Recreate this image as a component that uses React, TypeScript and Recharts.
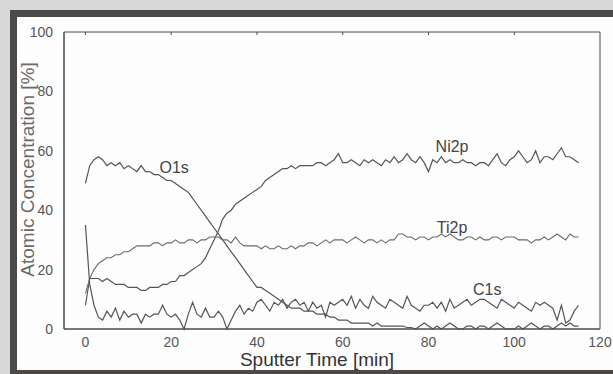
import { LineChart, Line, XAxis, YAxis, Label, ReferenceDot, ReferenceArea } from "recharts";

// sputter time [min], one reading per minute
const time = [
  0, 1, 2, 3, 4, 5, 6, 7, 8, 9, 10, 11, 12, 13, 14, 15, 16, 17, 18, 19,
  20, 21, 22, 23, 24, 25, 26, 27, 28, 29, 30, 31, 32, 33, 34, 35, 36, 37, 38, 39,
  40, 41, 42, 43, 44, 45, 46, 47, 48, 49, 50, 51, 52, 53, 54, 55, 56, 57, 58, 59,
  60, 61, 62, 63, 64, 65, 66, 67, 68, 69, 70, 71, 72, 73, 74, 75, 76, 77, 78, 79,
  80, 81, 82, 83, 84, 85, 86, 87, 88, 89, 90, 91, 92, 93, 94, 95, 96, 97, 98, 99,
  100, 101, 102, 103, 104, 105, 106, 107, 108, 109, 110, 111, 112, 113, 114, 115,
];

const o1s = [
  49, 55, 57, 58, 57, 55, 56, 55, 56, 54, 55, 54, 53, 55, 53, 53, 52, 52, 51, 50,
  50, 49, 48, 47, 46, 44, 42, 40, 38, 36, 34, 32, 30, 28, 26, 24, 22, 20, 18, 16,
  14, 14, 13, 12, 11, 10, 9, 8, 7, 7, 7, 6, 6, 6, 5, 5, 5, 4, 4, 3,
  3, 3, 2, 2, 2, 2, 2, 1, 2, 1, 1, 1, 1, 1, 1, 0.5, 0.5, 0, 1, 2,
  1, 0, 1, 0, 1, 2, 1, 0, 0, 1, 1, 0, 1, 1, 0, 1, 2, 1, 0, 0,
  0, 1, 0, 1, 2, 1, 0, 1, 1, 0, 1, 2, 1, 2, 1, 1,
];

const ni2p = [
  8, 17, 17, 17, 16, 17, 16, 15, 15, 15, 14, 14, 14, 13, 13, 14, 14, 14, 15, 15,
  16, 16, 18, 18, 19, 20, 21, 22, 24, 27, 30, 33, 37, 39, 40, 42, 43, 44, 45, 46,
  47, 48, 50, 51, 52, 53, 54, 54, 55, 54, 55, 55, 55, 55, 56, 56, 55, 56, 57, 59,
  56, 56, 57, 56, 55, 57, 56, 57, 56, 55, 57, 56, 58, 56, 57, 59, 57, 56, 58, 56,
  53, 57, 56, 58, 56, 57, 56, 56, 57, 56, 56, 55, 56, 56, 55, 57, 59, 56, 55, 57,
  58, 60, 58, 56, 57, 60, 56, 58, 58, 57, 59, 61, 58, 58, 57, 56,
];

const ti2p = [
  12, 17, 20, 22, 23, 24, 24, 25, 25, 26, 26, 27, 28, 28, 28, 28, 29, 29, 28, 29,
  29, 30, 29, 29, 30, 30, 29, 30, 30, 31, 31, 31, 30, 30, 29, 31, 29, 28, 28, 28,
  28, 27, 28, 27, 27, 28, 27, 27, 28, 27, 28, 28, 29, 29, 28, 29, 30, 29, 30, 30,
  30, 29, 30, 31, 30, 29, 30, 30, 29, 30, 29, 30, 30, 32, 32, 31, 31, 30, 31, 31,
  30, 31, 31, 32, 31, 32, 31, 30, 30, 31, 31, 30, 31, 30, 30, 31, 31, 30, 31, 31,
  31, 30, 30, 30, 29, 30, 30, 31, 30, 31, 32, 31, 30, 32, 31, 31,
];

const c1s = [
  35, 15, 8, 4, 3, 6, 4, 7, 3, 6, 4, 5, 5, 2, 5, 4, 5, 5, 8, 5,
  4, 5, 3, 0, 5, 9, 5, 4, 7, 4, 4, 6, 4, 0, 3, 6, 8, 5, 7, 6,
  9, 10, 8, 6, 9, 8, 10, 7, 9, 10, 8, 9, 6, 9, 7, 8, 4, 9, 8, 9,
  10, 8, 11, 7, 10, 8, 7, 11, 9, 8, 7, 10, 9, 8, 7, 11, 8, 7, 6, 8,
  8, 9, 7, 9, 6, 10, 7, 8, 9, 10, 8, 9, 10, 10, 9, 8, 7, 10, 9, 8,
  7, 9, 8, 7, 6, 9, 8, 9, 8, 7, 3, 8, 2, 3, 6, 8,
];

const xTicks = [0, 20, 40, 60, 80, 100, 120];
const yTicks = [0, 20, 40, 60, 80, 100];
const rightTicks = [10, 20, 30, 40, 50, 60, 70, 80, 90];

// where the curve names sit, in data units
const tags = [
  { name: "O1s", t: 20.7, v: 54.4 },
  { name: "Ni2p", t: 85.5, v: 61.5 },
  { name: "Ti2p", t: 85.5, v: 34.1 },
  { name: "C1s", t: 93.7, v: 13.2 },
];

const rows = time.map((t, i) => ({ t, o1s: o1s[i], ni2p: ni2p[i], ti2p: ti2p[i], c1s: c1s[i] }));

const font = "Liberation Sans, Arial, sans-serif";
const lineColor = "#555";
const axisColor = "#4a4a4a";

const YTitle = (props: any) => {
  const vb = props.viewBox;
  const x = 27;
  const y = vb.y + vb.height / 2 - 11;
  return (
    <text x={x} y={y} transform={`rotate(-90 ${x} ${y})`} textAnchor="middle" dominantBaseline="central"
      fontSize={19} fill="#6a6a6a" fontFamily={font}>
      Atomic Concentration [%]
    </text>
  );
};

export default function App() {
  return (
    <div style={{ position: "fixed", left: 0, top: 0, width: 613, height: 374, background: "#d8d8d8", overflow: "hidden" }}>
      <div style={{ position: "absolute", left: 10, top: 10, width: 603, height: 364, background: "#4e4949" }} />
      <div style={{ position: "absolute", left: 17, top: 17, width: 596, height: 353, background: "#fdfdfd" }} />
      <div style={{ position: "absolute", left: 0, top: 0 }}>
        <LineChart width={613} height={374} data={rows} margin={{ top: 32, right: 13, bottom: 0, left: 24 }}>
          <XAxis dataKey="t" type="number" domain={[-5, 120]} ticks={xTicks} allowDataOverflow
            height={45} tickLine={false} tickMargin={2} stroke={axisColor}
            tick={{ fontSize: 14, fill: "#555", fontFamily: font }}>
            <Label value="Sputter Time [min]" position="insideBottom" offset={8} dx={-15}
              style={{ fontSize: 19, fill: "#333", fontFamily: font }} />
          </XAxis>
          <XAxis xAxisId="top" dataKey="t" type="number" domain={[-5, 120]} ticks={[0, 20, 40, 60, 80, 100]}
            orientation="top" height={1} mirror tickSize={3} axisLine={false} tickFormatter={() => ""} stroke={axisColor} />
          <YAxis domain={[0, 100]} ticks={yTicks} width={40} tickLine={false} tickMargin={5} stroke={axisColor}
            tick={{ fontSize: 14, fill: "#555", fontFamily: font }}
            label={<YTitle />} />
          <YAxis yAxisId="right" orientation="right" domain={[0, 100]} ticks={rightTicks} width={1}
            mirror tickSize={4} axisLine={false} tickFormatter={() => ""} stroke={axisColor} />
          <ReferenceArea x1={-5} x2={120} y1={0} y2={100} fill="none" stroke={axisColor} strokeWidth={1} ifOverflow="visible" />
          <Line dataKey="o1s" stroke={lineColor} strokeWidth={1.2} dot={false} isAnimationActive={false} />
          <Line dataKey="ni2p" stroke={lineColor} strokeWidth={1.2} dot={false} isAnimationActive={false} />
          <Line dataKey="ti2p" stroke="#6a6a6a" strokeWidth={1.1} dot={false} isAnimationActive={false} />
          <Line dataKey="c1s" stroke={lineColor} strokeWidth={1.2} dot={false} isAnimationActive={false} />
          {tags.map((g) => (
            <ReferenceDot key={g.name} x={g.t} y={g.v} r={0} stroke="none" fill="none"
              label={{ value: g.name, position: "center", fontSize: 16, fill: "#444", fontFamily: font }} />
          ))}
        </LineChart>
      </div>
    </div>
  );
}
